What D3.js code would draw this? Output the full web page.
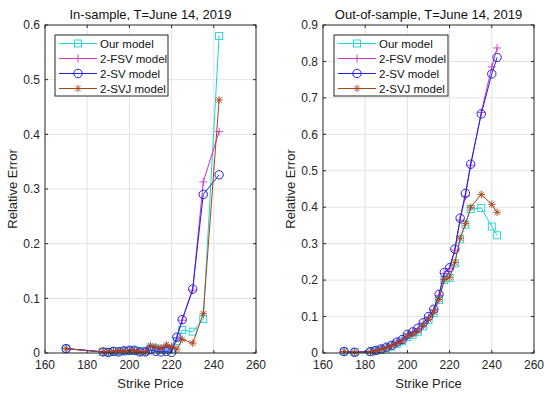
<!DOCTYPE html>
<html>
<head>
<meta charset="utf-8">
<script src="https://cdn.jsdelivr.net/npm/d3@7"></script>
<style>
  body { margin: 0; background: #fff; }
  svg { display: block; font-family: "Liberation Sans", Arial, Helvetica, sans-serif; }
</style>
</head>
<body>
<div id="chart"></div>
<script>
// ── Datos ─────────────────────────────────────────────────────────────────
const seriesNames = ["Our model", "2-FSV model", "2-SV model", "2-SVJ model"];

// In-sample
const strikesIn = [170, 187.5, 190, 192.5, 195, 197.5, 200, 202.5, 205, 207.5,
  210, 212.5, 215, 217.5, 220, 222.5, 225, 230, 235, 242.5];
const ourIn  = [0.008, 0.002, 0.002, 0.003, 0.003, 0.004, 0.004, 0.004, 0.003, 0.003,
  0.010, 0.008, 0.006, 0.007, 0.006, 0.022, 0.042, 0.039, 0.062, 0.580];
const fsvIn  = [0.008, 0.002, 0.002, 0.003, 0.004, 0.004, 0.005, 0.005, 0.003, 0.003,
  0.012, 0.010, 0.008, 0.012, 0.010, 0.027, 0.060, 0.115, 0.313, 0.405];
const svIn   = [0.008, 0.002, 0.001, 0.003, 0.002, 0.004, 0.005, 0.005, 0.002, 0.002,
  0.006, 0.003, 0.002, 0.003, 0.001, 0.029, 0.061, 0.117, 0.290, 0.326];
const svjIn  = [0.008, 0.002, 0.002, 0.003, 0.003, 0.004, 0.004, 0.004, 0.002, 0.002,
  0.013, 0.011, 0.009, 0.015, 0.012, 0.007, 0.025, 0.018, 0.072, 0.463];

// Out-of-sample
const strikesOut = [170, 175, 182.5, 185, 187.5, 190, 192.5, 195, 197.5, 200,
  202.5, 205, 207.5, 210, 212.5, 215, 217.5, 220, 222.5, 225, 227.5, 230, 235, 240, 242.5];
const ourOut = [0.004, 0.002, 0.003, 0.006, 0.009, 0.013, 0.018, 0.025, 0.032, 0.044,
  0.050, 0.058, 0.073, 0.090, 0.110, 0.145, 0.200, 0.206, 0.246, 0.312, 0.352, 0.395, 0.398, 0.347, 0.323];
const fsvOut = [0.004, 0.002, 0.004, 0.007, 0.011, 0.016, 0.021, 0.029, 0.036, 0.050,
  0.057, 0.067, 0.082, 0.098, 0.118, 0.158, 0.218, 0.232, 0.282, 0.365, 0.430, 0.515, 0.660, 0.785, 0.837];
const svOut  = [0.004, 0.002, 0.004, 0.007, 0.011, 0.016, 0.021, 0.030, 0.037, 0.051,
  0.058, 0.068, 0.083, 0.100, 0.120, 0.161, 0.221, 0.234, 0.285, 0.370, 0.438, 0.518, 0.656, 0.766, 0.811];
const svjOut = [0.004, 0.002, 0.003, 0.006, 0.010, 0.014, 0.019, 0.026, 0.033, 0.046,
  0.052, 0.060, 0.075, 0.092, 0.112, 0.147, 0.202, 0.208, 0.248, 0.315, 0.355, 0.400, 0.435, 0.408, 0.386];

const xTicks = [160, 180, 200, 220, 240, 260];
const yTicksIn = [0, 0.1, 0.2, 0.3, 0.4, 0.5, 0.6];
const yTicksOut = [0, 0.1, 0.2, 0.3, 0.4, 0.5, 0.6, 0.7, 0.8, 0.9];

// ── Estilo por serie ──────────────────────────────────────────────────────
const colors = ["#19d6d6", "#cc33cc", "#2222dd", "#a8441a"];
const markers = ["square", "plus", "circle", "star"];

const width = 550, height = 394;
const svg = d3.select("#chart").append("svg")
  .attr("width", width).attr("height", height);

function drawMarker(g, type, x, y, color) {
  if (type === "square") {
    g.append("rect").attr("x", x - 3.5).attr("y", y - 3.5)
      .attr("width", 7).attr("height", 7)
      .attr("fill", "none").attr("stroke", color).attr("stroke-width", 0.9);
  } else if (type === "circle") {
    g.append("circle").attr("cx", x).attr("cy", y).attr("r", 4.2)
      .attr("fill", "none").attr("stroke", color).attr("stroke-width", 1);
  } else if (type === "plus") {
    g.append("path").attr("d", `M${x - 4},${y}H${x + 4}M${x},${y - 4}V${y + 4}`)
      .attr("stroke", color).attr("stroke-width", 0.9);
  } else {
    const r = 3.8, d = r * 0.72;
    g.append("path")
      .attr("d", `M${x - r},${y}H${x + r}M${x},${y - r}V${y + r}` +
                 `M${x - d},${y - d}L${x + d},${y + d}M${x - d},${y + d}L${x + d},${y - d}`)
      .attr("stroke", color).attr("stroke-width", 0.9);
  }
}

function panel(opts) {
  const { left, right, top, bottom, title, strikes, series, yMax, yTicks, legend } = opts;
  const x = d3.scaleLinear().domain([160, 260]).range([left, right]);
  const y = d3.scaleLinear().domain([0, yMax]).range([bottom, top]);
  const g = svg.append("g");

  // grid
  g.append("g").selectAll("line.gx").data(xTicks.slice(1, -1)).join("line")
    .attr("x1", d => x(d)).attr("x2", d => x(d)).attr("y1", top).attr("y2", bottom)
    .attr("stroke", "#e3e3e3").attr("stroke-width", 1);
  g.append("g").selectAll("line.gy").data(yTicks.slice(1, -1)).join("line")
    .attr("y1", d => y(d)).attr("y2", d => y(d)).attr("x1", left).attr("x2", right)
    .attr("stroke", "#e3e3e3").attr("stroke-width", 1);

  // series
  const clipId = "clip" + left;
  svg.append("clipPath").attr("id", clipId).append("rect")
    .attr("x", left).attr("y", top - 6).attr("width", right - left).attr("height", bottom - top + 6);
  const line = d3.line().x(d => x(d[0])).y(d => y(d[1]));
  series.forEach((vals, i) => {
    const pts = strikes.map((k, j) => [k, vals[j]]);
    const sg = g.append("g");
    sg.append("path").attr("d", line(pts)).attr("fill", "none")
      .attr("stroke", colors[i]).attr("stroke-width", 1);
    pts.forEach(p => drawMarker(sg, markers[i], x(p[0]), y(p[1]), colors[i]));
  });

  // axes box
  g.append("rect").attr("x", left).attr("y", top)
    .attr("width", right - left).attr("height", bottom - top)
    .attr("fill", "none").attr("stroke", "#262626").attr("stroke-width", 1);

  // ticks
  const tl = 3;
  xTicks.forEach(t => {
    g.append("line").attr("x1", x(t)).attr("x2", x(t)).attr("y1", bottom).attr("y2", bottom - tl)
      .attr("stroke", "#262626");
    g.append("line").attr("x1", x(t)).attr("x2", x(t)).attr("y1", top).attr("y2", top + tl)
      .attr("stroke", "#262626");
    g.append("text").attr("x", x(t)).attr("y", bottom + 16)
      .attr("text-anchor", "middle").style("font-size", "12px").attr("fill", "#262626")
      .text(t);
  });
  yTicks.forEach(t => {
    g.append("line").attr("y1", y(t)).attr("y2", y(t)).attr("x1", left).attr("x2", left + tl)
      .attr("stroke", "#262626");
    g.append("line").attr("y1", y(t)).attr("y2", y(t)).attr("x1", right).attr("x2", right - tl)
      .attr("stroke", "#262626");
    g.append("text").attr("x", left - 5).attr("y", y(t)).attr("dy", "0.35em")
      .attr("text-anchor", "end").style("font-size", "12px").attr("fill", "#262626")
      .text(t === 0 ? "0" : d3.format(".1f")(t));
  });

  // labels
  g.append("text").attr("x", (left + right) / 2).attr("y", 19)
    .attr("text-anchor", "middle").style("font-size", "13px").attr("fill", "#111")
    .text(title);
  g.append("text").attr("x", (left + right) / 2).attr("y", bottom + 35)
    .attr("text-anchor", "middle").style("font-size", "13px").attr("fill", "#262626")
    .text("Strike Price");
  g.append("text")
    .attr("transform", `translate(${left - 28},${(top + bottom) / 2}) rotate(-90)`)
    .attr("text-anchor", "middle").style("font-size", "13px").attr("fill", "#262626")
    .text("Relative Error");

  // legend
  const lg = g.append("g");
  lg.append("rect").attr("x", legend.x).attr("y", legend.y)
    .attr("width", legend.w).attr("height", 61)
    .attr("fill", "#fff").attr("stroke", "#262626").attr("stroke-width", 1);
  seriesNames.forEach((name, i) => {
    const cy = legend.y + 8.5 + i * 15;
    const x0 = legend.x + 4, x1 = legend.x + 42;
    lg.append("line").attr("x1", x0).attr("x2", x1).attr("y1", cy).attr("y2", cy)
      .attr("stroke", colors[i]).attr("stroke-width", 1);
    drawMarker(lg, markers[i], (x0 + x1) / 2, cy, colors[i]);
    lg.append("text").attr("x", legend.x + 45).attr("y", cy).attr("dy", "0.35em")
      .style("font-size", "11.5px").attr("fill", "#111").text(name);
  });
}

panel({
  left: 45, right: 256, top: 25, bottom: 353,
  title: "In-sample, T=June 14, 2019",
  strikes: strikesIn, series: [ourIn, fsvIn, svIn, svjIn],
  yMax: 0.6, yTicks: yTicksIn,
  legend: { x: 55, y: 35, w: 113 }
});

panel({
  left: 323, right: 534, top: 25, bottom: 353,
  title: "Out-of-sample, T=June 14, 2019",
  strikes: strikesOut, series: [ourOut, fsvOut, svOut, svjOut],
  yMax: 0.9, yTicks: yTicksOut,
  legend: { x: 334, y: 35, w: 114 }
});
</script>
</body>
</html>
